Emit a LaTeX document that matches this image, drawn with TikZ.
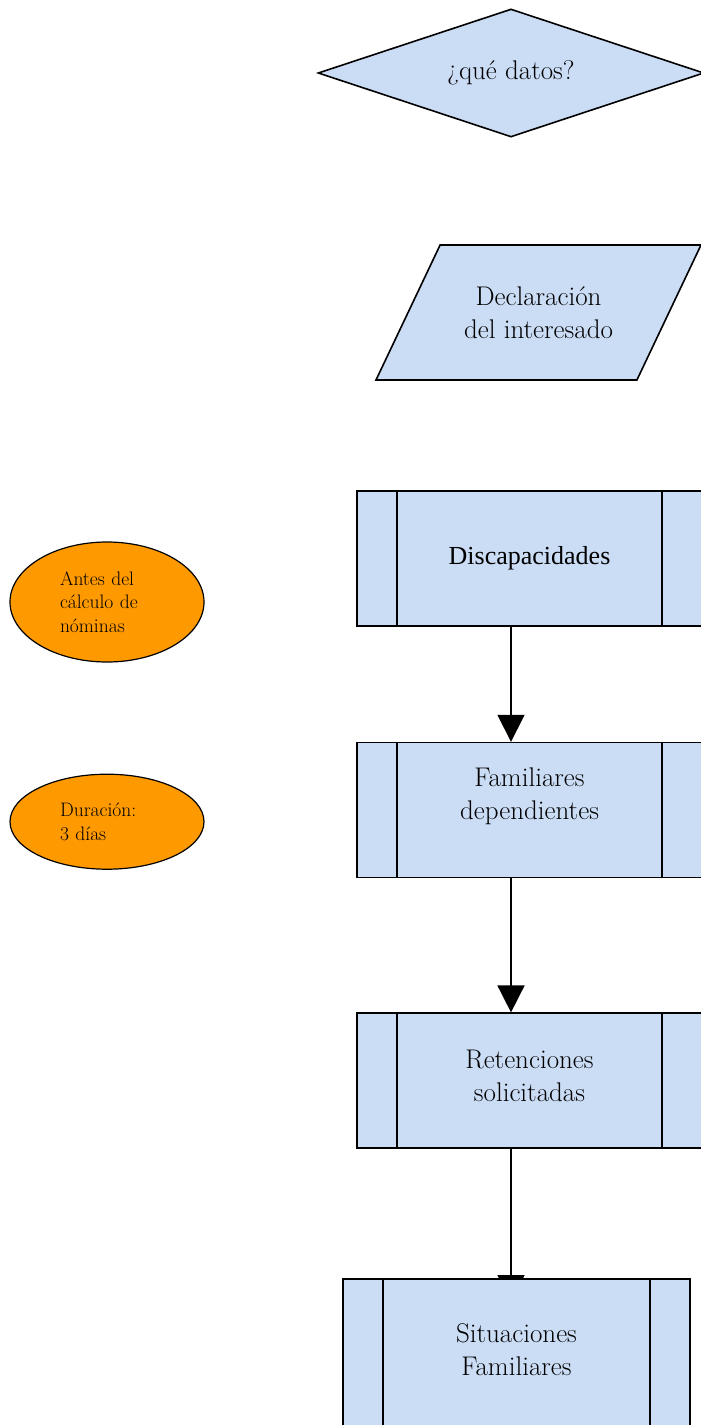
\documentclass[tikz,border=0pt]{standalone}
\usepackage{fontspec}
\newfontfamily\timesfont{Liberation Serif}
\usetikzlibrary{shapes.geometric, arrows.meta, positioning, backgrounds}

\definecolor{paleblue}{RGB}{203,220,245}
\definecolor{notaorange}{RGB}{255,153,0}

\tikzset{
  datafill/.style={draw, fill=paleblue, line width=1.6pt},
  subproc/.style={datafill, rectangle, minimum width=345pt, minimum height=135pt, inner sep=0pt, align=center,
    path picture={\draw[line width=1.6pt]
      ([xshift=40pt]path picture bounding box.north west) -- ([xshift=40pt]path picture bounding box.south west)
      ([xshift=-40pt]path picture bounding box.north east) -- ([xshift=-40pt]path picture bounding box.south east);}},
  nota/.style={ellipse, draw, line width=1.2pt, fill=notaorange, minimum width=194pt, text width=94pt, align=left, font=\fontsize{19.5}{23.5}\selectfont},
  flecha/.style={-{Triangle[width=27pt,length=27pt]}, line width=1.6pt}
}

\begin{document}
\begin{tikzpicture}[x=1pt, y=1pt, font=\fontsize{27}{33}\selectfont]

    \useasboundingbox (0,0) rectangle (701,-1425);

    % Question and input of data
    \node (q) [diamond, datafill, aspect=3, minimum width=386pt, minimum height=128pt, inner sep=0pt] at (511,-73) {¿qué datos?};
    \node (decl) [trapezium, trapezium left angle=64.6, trapezium right angle=115.4, trapezium stretches body, datafill, inner ysep=41.5pt, minimum width=325pt, minimum height=135pt, align=center] at (538.5,-312.5) {Declaración\\del interesado};

    % Subprocess boxes
    \node (disc) [subproc, font=\timesfont\fontsize{26}{32}\selectfont] at (529.5,-558.5) {Discapacidades};
    \node (fam) [subproc, below=115pt of disc, text depth=32pt] {Familiares\\dependientes};
    \node (ret) [subproc, below=134pt of fam, text depth=10pt] {Retenciones\\solicitadas};
    \node (sit) [subproc, below=129pt of ret, xshift=-13pt, minimum width=347pt, minimum height=158pt, text depth=16pt] {Situaciones\\Familiares};

    \draw[flecha] ([xshift=-18.5pt]disc.south) -- ([xshift=-18.5pt]fam.north);
    \draw[flecha] ([xshift=-18.5pt]fam.south) -- ([xshift=-18.5pt]ret.north);
    \begin{pgfonlayer}{background}
    \draw[flecha] ([xshift=-18.5pt]ret.south) -- ([xshift=-5.5pt, yshift=-24pt]sit.north);
    \end{pgfonlayer}

    % Notes on the left
    \node (antes) [nota, minimum height=120pt] at (107,-602) {Antes del\\cálculo de\\nóminas};
    \node (dura) [nota, minimum height=95pt, below=111pt of antes] {Duración:\\3 días};

\end{tikzpicture}
\end{document}
